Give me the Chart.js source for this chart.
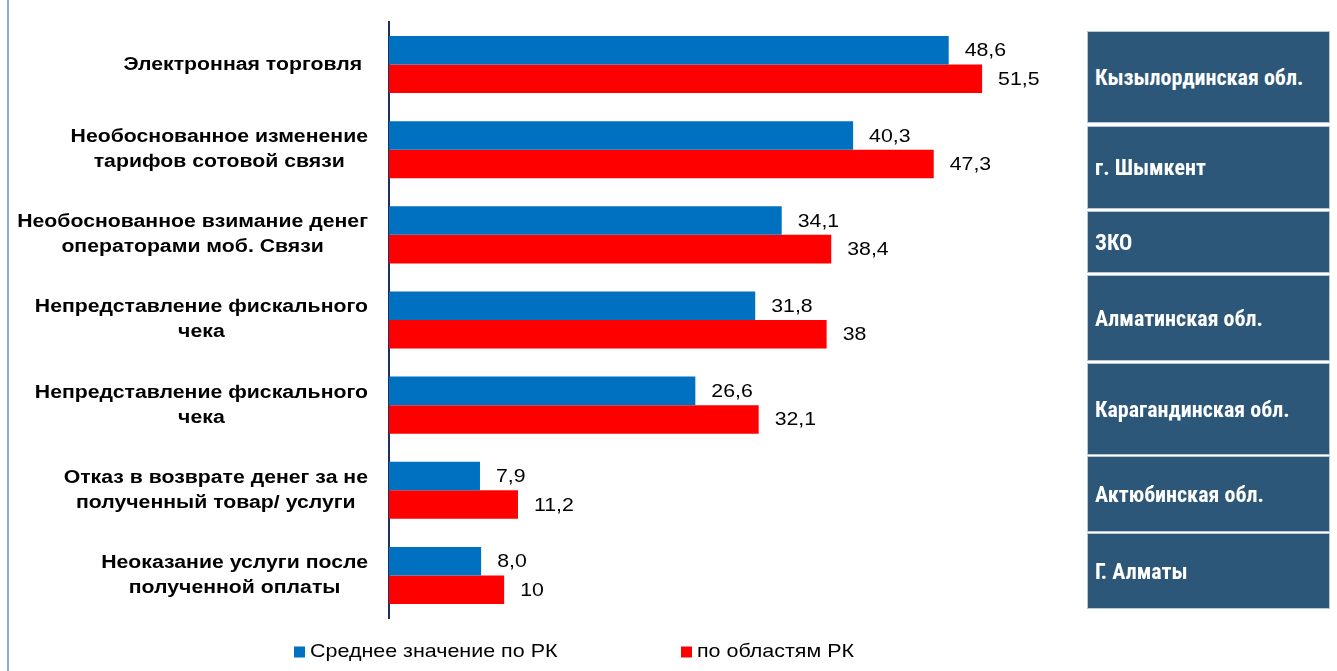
<!DOCTYPE html>
<html>
<head>
<meta charset="utf-8">
<script src="https://cdn.jsdelivr.net/npm/chart.js@4.4.1/dist/chart.umd.min.js"></script>
<style>
  html, body { margin: 0; padding: 0; background: #fff; }
  #wrap { position: relative; width: 1337px; height: 671px; overflow: hidden; }
  #frame { position: absolute; left: 7px; top: 0; width: 2px; height: 671px; background: #8eaadb; }
  canvas { position: absolute; left: 0; top: 0; }
  .box { position: absolute; left: 1087px; width: 243px; background: #2c5779; border: 1px solid #b9c6d3;
         color: #fff; font-family: "Liberation Sans Narrow", "Roboto Condensed", "DejaVu Sans Condensed", sans-serif;
         font-weight: bold; font-size: 22px; box-sizing: border-box; padding-left: 7px;
         display: flex; align-items: center; white-space: nowrap; }
</style>
</head>
<body>
<div id="wrap">
  <div id="frame"></div>
  <canvas id="c" width="1337" height="671"></canvas>
</div>
<script>
// ---- data ----
const categories = [
  ["Электронная торговля "],
  ["Необоснованное изменение", "тарифов сотовой связи"],
  ["Необоснованное взимание денег", "операторами моб. Связи"],
  ["Непредставление фискального", "чека"],
  ["Непредставление фискального", "чека"],
  ["Отказ в возврате денег за не", "полученный товар/ услуги"],
  ["Неоказание услуги после", "полученной оплаты"]
];
const seriesNames = ["Среднее значение по РК", "по областям РК"];
const avgRK = [48.6, 40.3, 34.1, 31.8, 26.6, 7.9, 8.0];
const regionsRK = [51.5, 47.3, 38.4, 38, 32.1, 11.2, 10];
const avgRKLabels = ["48,6", "40,3", "34,1", "31,8", "26,6", "7,9", "8,0"];
const regionsRKLabels = ["51,5", "47,3", "38,4", "38", "32,1", "11,2", "10"];
const regionNames = ["Кызылординская обл.", "г. Шымкент", "ЗКО", "Алматинская обл.", "Карагандинская обл.", "Актюбинская обл.", "Г. Алматы"];

// ---- right-side region boxes (decoration) ----
const boxSpans = [[31, 123], [126, 209], [211, 273], [275, 361], [363, 455], [456, 532], [533, 609]];
const wrap = document.getElementById('wrap');
regionNames.forEach((n, i) => {
  const d = document.createElement('div');
  d.className = 'box';
  d.style.top = boxSpans[i][0] + 'px';
  d.style.height = (boxSpans[i][1] - boxSpans[i][0]) + 'px';
  d.textContent = n;
  wrap.appendChild(d);
});

const FONT = '"Liberation Sans", Arial, sans-serif';

function drawStretched(ctx, text, x, y, sx, align) {
  ctx.save();
  ctx.translate(x, y);
  ctx.scale(sx, 1);
  ctx.textAlign = align;
  ctx.fillText(text, 0, 0);
  ctx.restore();
}

const labelPlugin = {
  id: 'customLabels',
  afterDraw(chart) {
    const ctx = chart.ctx;
    const yScale = chart.scales.y;
    // category labels
    ctx.save();
    ctx.fillStyle = '#000';
    ctx.textBaseline = 'middle';
    ctx.font = 'bold 18px ' + FONT;
    const SX = 1.18, LH = 25, RIGHT = 368;
    categories.forEach((lines, i) => {
      const cy = yScale.getPixelForValue(i);
      const w = Math.max(...lines.map(l => ctx.measureText(l).width)) * SX;
      const cx = RIGHT - w / 2;
      lines.forEach((l, k) => {
        const y = cy + (k - (lines.length - 1) / 2) * LH;
        drawStretched(ctx, l, cx, y, SX, 'center');
      });
    });
    // value labels
    ctx.font = '18.5px ' + FONT;
    const labelSets = [avgRKLabels, regionsRKLabels];
    chart.data.datasets.forEach((ds, di) => {
      const meta = chart.getDatasetMeta(di);
      meta.data.forEach((el, i) => {
        drawStretched(ctx, labelSets[di][i], el.x + 16, el.y + 1, 1.15, 'left');
      });
    });
    // legend
    const items = [{x: 294}, {x: 681}];
    chart.data.datasets.forEach((ds, di) => {
      const lx = items[di].x, ly = 652;
      ctx.fillStyle = ds.backgroundColor;
      ctx.fillRect(lx, ly - 5.5, 11, 11);
      ctx.fillStyle = '#000';
      drawStretched(ctx, ds.label, lx + 16, ly, 1.16, 'left');
    });
    ctx.restore();
  }
};

new Chart(document.getElementById('c'), {
  type: 'bar',
  data: {
    labels: categories,
    datasets: [
      { label: seriesNames[0], data: avgRK, backgroundColor: '#0070c0', borderWidth: 0 },
      { label: seriesNames[1], data: regionsRK, backgroundColor: '#ff0000', borderWidth: 0 }
    ]
  },
  options: {
    indexAxis: 'y',
    responsive: false,
    animation: false,
    devicePixelRatio: 1,
    layout: { padding: { left: 0, top: 22, right: 257, bottom: 53 } },
    categoryPercentage: 0.67,
    barPercentage: 1.0,
    plugins: { legend: { display: false }, tooltip: { enabled: false } },
    scales: {
      x: { display: false, min: 0, max: 60 },
      y: {
        display: true,
        ticks: { display: false },
        grid: { display: false },
        border: { display: true, color: '#1f2f5c', width: 2 },
        afterFit(s) { s.width = 389; }
      }
    }
  },
  plugins: [labelPlugin]
});
</script>
</body>
</html>
